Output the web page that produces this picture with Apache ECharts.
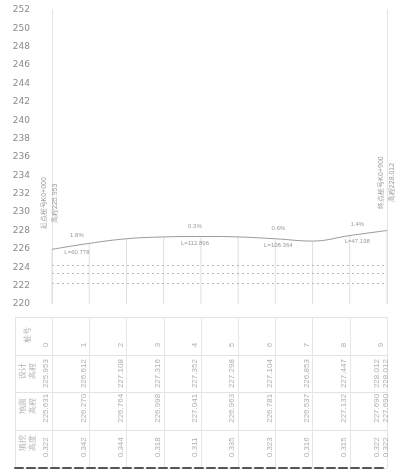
<!DOCTYPE html>
<html>
<head>
<meta charset="utf-8">
<style>
  html, body { margin: 0; padding: 0; background: #fff; }
  #chart { width: 398px; height: 473px; }
</style>
<script src="https://cdn.jsdelivr.net/npm/echarts@6/dist/echarts.min.js"></script>
</head>
<body>
<div id="chart"></div>
<script>
// 桩号 (station index) and design elevation along the profile
const stations = [0, 1, 2, 3, 4, 5, 6, 7, 8, 9]
const designElev = [225.95, 226.6, 227.1, 227.3, 227.35, 227.3, 227.1, 226.85, 227.45, 228.0]

// table rows
const rowNames = ['桩号', '设计\n高程', '地面\n高程', '填挖\n高度']
const stationText = ['0', '1', '2', '3', '4', '5', '6', '7', '8', '9']
const designText = ['225.953', '226.612', '227.108', '227.316', '227.352', '227.298', '227.104', '226.853', '227.447', '228.012\n228.012']
const groundText = ['225.631', '226.270', '226.764', '226.998', '227.041', '226.963', '226.781', '226.537', '227.132', '227.690\n227.690']
const fillText = ['0.322', '0.342', '0.344', '0.318', '0.311', '0.335', '0.323', '0.316', '0.315', '0.322\n0.322']
const rowTexts = [stationText, designText, groundText, fillText]

// 竖曲线 notes: station, elevation, text above, text below
const noteStations = [0.67, 3.84, 6.08, 8.2]
const noteElev = [226.4, 227.35, 227.1, 227.55]
const noteAbove = ['1.8%', '0.3%', '0.6%', '1.4%']
const noteBelow = ['L=60.778', 'L=112.896', 'L=108.364', 'L=47.198']

// dashed level lines under the profile
const levelLines = [224.2, 223.3, 222.3]

const chart = echarts.init(document.getElementById('chart'))

const faint = '#9a9a9a'
const rowValueY = [0.74, 1.5, 2.42, 3.45]
const rowLabelY = [0.48, 1.42, 2.35, 3.35]

const tableSeries = rowTexts.map((texts, r) => ({
  type: 'scatter',
  xAxisIndex: 1,
  yAxisIndex: 1,
  symbolSize: 0,
  silent: true,
  data: stations.map(s => [s, rowValueY[r]]),
  label: {
    show: true,
    position: 'inside',
    rotate: 90,
    offset: [0, -6],
    fontSize: 8,
    lineHeight: 9,
    color: faint,
    formatter: p => texts[p.dataIndex]
  }
}))

tableSeries.push({
  type: 'scatter',
  xAxisIndex: 1,
  yAxisIndex: 1,
  symbolSize: 0,
  silent: true,
  data: rowNames.map((n, r) => [-0.66, rowLabelY[r]]),
  label: {
    show: true,
    position: 'inside',
    rotate: 90,
    fontSize: 8,
    lineHeight: 10,
    color: faint,
    formatter: p => rowNames[p.dataIndex]
  }
})

chart.setOption({
  backgroundColor: '#fff',
  animation: false,
  grid: [
    { left: 52, right: 11, top: 10, height: 294 },
    { left: 15, right: 11, top: 317, bottom: 5 }
  ],
  xAxis: [{
    gridIndex: 0,
    type: 'value',
    min: 0,
    max: 9,
    interval: 1,
    axisLine: { show: false },
    axisTick: { show: false },
    axisLabel: { show: false },
    splitLine: { show: false }
  }, {
    gridIndex: 1,
    type: 'value',
    min: -1,
    max: 9,
    interval: 1,
    position: 'bottom',
    axisLine: { show: true, onZero: false, lineStyle: { color: '#555', width: 2, type: 'dashed' } },
    axisTick: { show: false },
    axisLabel: { show: false },
    splitLine: { show: true, lineStyle: { color: '#e6e6e6' } }
  }],
  yAxis: [{
    gridIndex: 0,
    type: 'value',
    min: 220,
    max: 252,
    interval: 2,
    startValue: 220,
    axisLine: { show: true, lineStyle: { color: '#e2e2e2' } },
    axisTick: { show: false },
    axisLabel: { margin: 22, fontSize: 9, color: '#8a8a8a', fontFamily: 'DejaVu Sans' },
    splitLine: { show: false }
  }, {
    gridIndex: 1,
    type: 'value',
    min: 0,
    max: 4,
    interval: 1,
    inverse: true,
    axisLine: { show: false },
    axisTick: { show: false },
    axisLabel: { show: false },
    splitLine: { show: true, lineStyle: { color: '#e2e2e2' } }
  }, {
    gridIndex: 0,
    type: 'value',
    position: 'right',
    min: 220,
    max: 252,
    axisLine: { show: true, lineStyle: { color: '#e2e2e2' } },
    axisTick: { show: false },
    axisLabel: { show: false },
    splitLine: { show: false }
  }],
  series: [{
    type: 'bar',
    barWidth: 1,
    silent: true,
    itemStyle: { color: '#e0e0e0' },
    data: stations.map((s, i) => [s, designElev[i]]),
    markLine: {
      silent: true,
      symbol: 'none',
      label: { show: false },
      lineStyle: { color: '#b8b8b8', type: [2, 3], width: 1 },
      data: levelLines.map(v => ({ yAxis: v }))
    }
  }, {
    type: 'line',
    smooth: 0.4,
    symbol: 'none',
    silent: true,
    lineStyle: { color: '#9a9a9a', width: 1 },
    data: stations.map((s, i) => [s, designElev[i]]),
    markPoint: {
      symbol: 'circle',
      symbolSize: 0,
      silent: true,
      data: [
        {
          coord: [stations[0], designElev[0]],
          label: {
            show: true, rotate: 90, offset: [46, -2], fontSize: 7, lineHeight: 11, color: faint,
            formatter: '起点桩号K0+000\n高程' + designText[0]
          }
        },
        {
          coord: [stations[9], designElev[9]],
          label: {
            show: true, rotate: 90, offset: [48, 0], fontSize: 7, lineHeight: 11, color: faint,
            formatter: '终点桩号K0+900\n高程' + designText[9].split('\n')[0]
          }
        }
      ].concat(noteStations.map((s, i) => ({
        coord: [s, noteElev[i]],
        label: { show: true, offset: [0, -10], fontSize: 6, color: faint, formatter: noteAbove[i] }
      }))).concat(noteStations.map((s, i) => ({
        coord: [s, noteElev[i]],
        label: { show: true, offset: [0, 7], fontSize: 6, color: faint, formatter: noteBelow[i] }
      })))
    }
  }].concat(tableSeries)
})
</script>
</body>
</html>
